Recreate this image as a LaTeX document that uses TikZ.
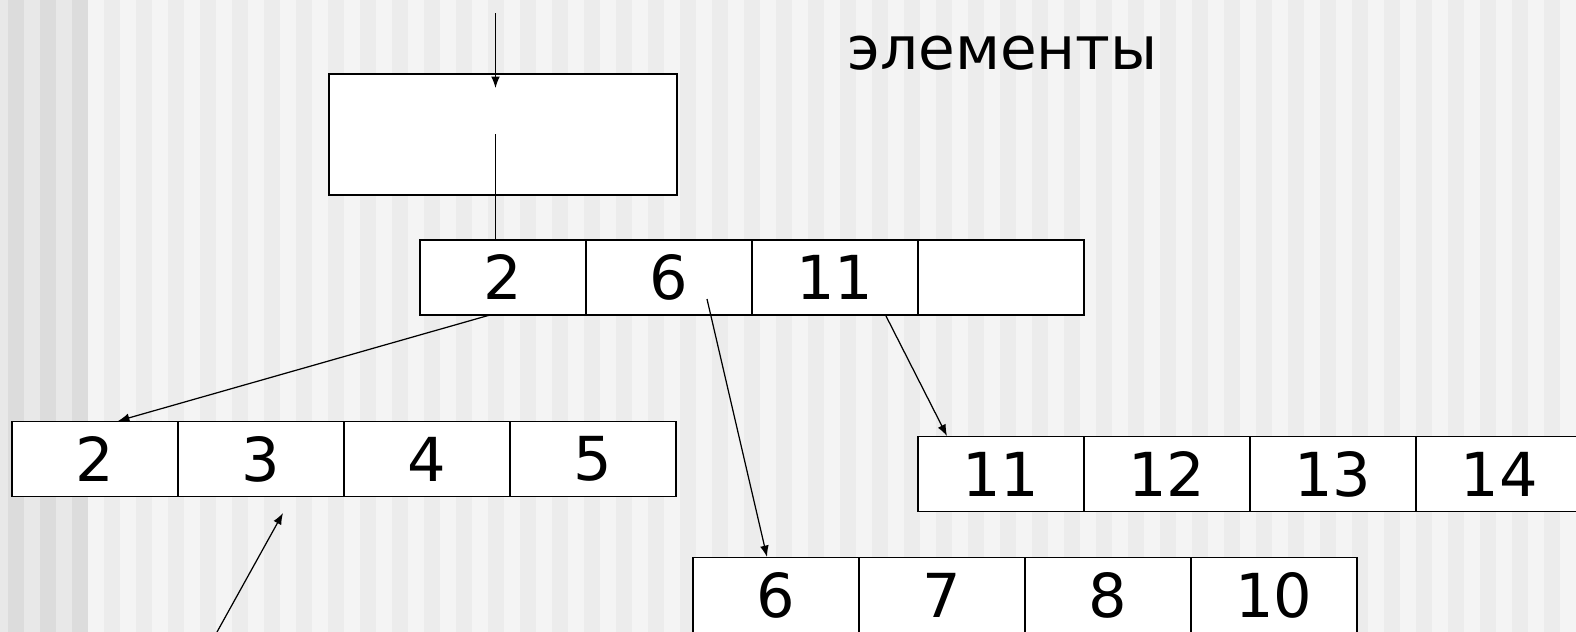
\documentclass[tikz,border=0pt]{standalone}
\usepackage{fontspec}
\setmainfont{DejaVu Sans}
\usetikzlibrary{arrows.meta}
\definecolor{bgA}{HTML}{E8E8E8}
\definecolor{bgB}{HTML}{DCDCDC}
\definecolor{bgC}{HTML}{F4F4F4}
\definecolor{bgD}{HTML}{ECECEC}
\begin{document}
\begin{tikzpicture}[x=0.02cm,y=-0.02cm,
  cell/.style={draw=black,line width=0.8pt,fill=white,minimum width=3.32cm,minimum height=1.5cm,inner sep=0pt,font=\fontsize{34.5}{41}\selectfont},
  bigbox/.style={draw=black,line width=0.8pt,fill=white,minimum width=6.96cm,minimum height=2.42cm,inner sep=0pt},
  arr/.style={line width=0.7pt,-{Latex[length=6.5pt,width=5pt]}},
  plain/.style={line width=0.7pt}]
\useasboundingbox (0,0) rectangle (1576,632);
% background stripes
\fill[bgA] (0,0) rectangle (88,632);
\foreach \x in {8,40,72} \fill[bgB] (\x,0) rectangle ++(16,632);
\fill[bgC] (88,0) rectangle (1576,632);
\foreach \x in {104,136,...,1560} \fill[bgD] (\x,0) rectangle ++(16,632);
% top box
\node[bigbox] (top) at (503,134.5) {};
% label
\node[anchor=base west,inner sep=0pt,font=\fontsize{34}{41}\selectfont] (lbl) at (847,70) {элементы};
% middle array
\node[cell] (m1) at (503,277.5) {2};
\node[cell] (m2) at (669,277.5) {6};
\node[cell] (m3) at (835,277.5) {11};
\node[cell] (m4) at (1001,277.5) {};
% bottom-left array
\node[cell] (a1) at (95,459) {2};
\node[cell] (a2) at (261,459) {3};
\node[cell] (a3) at (427,459) {4};
\node[cell] (a4) at (593,459) {5};
% right array
\node[cell] (b1) at (1001,474) {11};
\node[cell] (b2) at (1167,474) {12};
\node[cell] (b3) at (1333,474) {13};
\node[cell] (b4) at (1499,474) {14};
% lower array
\node[cell] (c1) at (776,595) {6};
\node[cell] (c2) at (942,595) {7};
\node[cell] (c3) at (1108,595) {8};
\node[cell] (c4) at (1274,595) {10};
% connector end points
\coordinate (p0) at (495.5,13);
\coordinate (p0e) at (495.5,88);
\coordinate (p1) at (495.5,134);
\coordinate (p2) at (490,315);
\coordinate (p2e) at (118,421);
\coordinate (p3) at (707,299);
\coordinate (p3e) at (767,557);
\coordinate (p4) at (886,316);
\coordinate (p4e) at (947,436);
\coordinate (p5) at (217,632);
\coordinate (p5e) at (283,513);
% connectors
\draw[arr] (p0) -- (p0e);
\draw[plain] (p1) -- (p1 |- m1.north);
\draw[arr] (p2) -- (p2e);
\draw[arr] (p3) -- (p3e);
\draw[arr] (p4) -- (p4e);
\draw[arr] (p5) -- (p5e);
\end{tikzpicture}
\end{document}
